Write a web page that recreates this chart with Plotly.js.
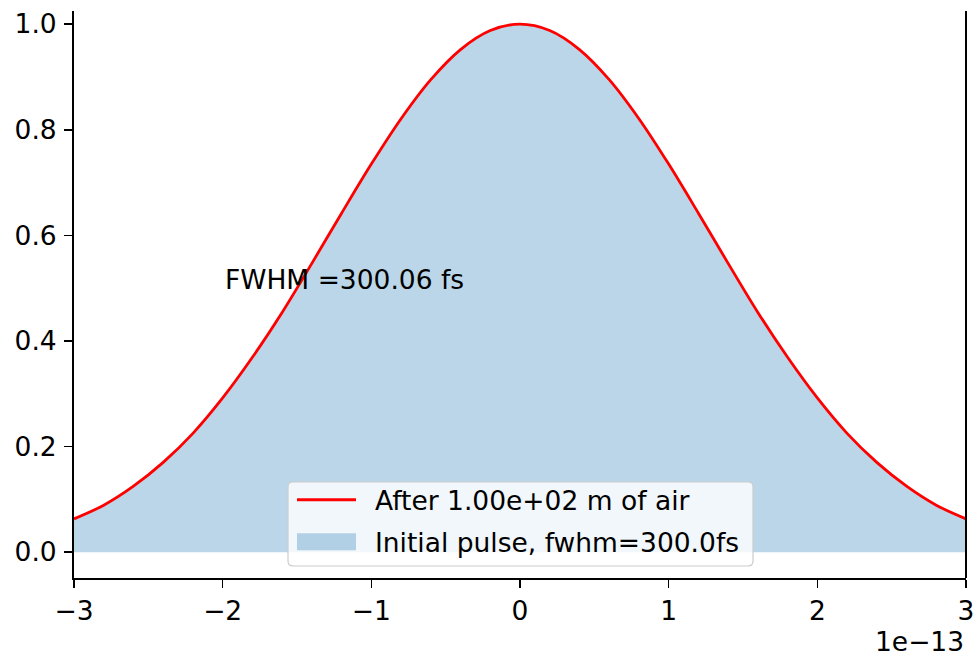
<!DOCTYPE html>
<html>
<head>
<meta charset="utf-8">
<script src="https://cdn.plot.ly/plotly-3.0.1.min.js"></script>
<style>
  html, body { margin: 0; padding: 0; background: #ffffff; }
  #chart { width: 977px; height: 656px; }
</style>
</head>
<body>
<div id="chart"></div>
<script>
// Time samples (seconds) across the pulse window
const timeS = [
  -3.0e-13, -2.8e-13, -2.6e-13, -2.4e-13, -2.2e-13, -2.0e-13, -1.8e-13, -1.6e-13,
  -1.4e-13, -1.2e-13, -1.0e-13, -0.8e-13, -0.6e-13, -0.4e-13, -0.2e-13, 0.0,
   0.2e-13,  0.4e-13,  0.6e-13,  0.8e-13,  1.0e-13,  1.2e-13,  1.4e-13,  1.6e-13,
   1.8e-13,  2.0e-13,  2.2e-13,  2.4e-13,  2.6e-13,  2.8e-13,  3.0e-13
];

// Normalised intensity of the initial pulse (fwhm = 300 fs)
const initialPulse = [
  0.063, 0.089, 0.125, 0.170, 0.225, 0.292, 0.369, 0.454,
  0.547, 0.642, 0.735, 0.821, 0.895, 0.952, 0.988, 1.000,
  0.988, 0.952, 0.895, 0.821, 0.735, 0.642, 0.547, 0.454,
  0.369, 0.292, 0.225, 0.170, 0.125, 0.089, 0.063
];

// Normalised intensity after propagation through 100 m of air
const afterAir = [
  0.063, 0.089, 0.125, 0.170, 0.225, 0.292, 0.369, 0.454,
  0.547, 0.642, 0.735, 0.821, 0.895, 0.952, 0.988, 1.000,
  0.988, 0.952, 0.895, 0.821, 0.735, 0.642, 0.547, 0.454,
  0.369, 0.292, 0.225, 0.170, 0.125, 0.089, 0.063
];

const xTickVals = [-3e-13, -2e-13, -1e-13, 0, 1e-13, 2e-13, 3e-13];
const xTickText = ['\u22123', '\u22122', '\u22121', '0', '1', '2', '3'];
const yTickVals = [0.0, 0.2, 0.4, 0.6, 0.8, 1.0];
const yTickText = ['0.0', '0.2', '0.4', '0.6', '0.8', '1.0'];

const labelInitial = 'Initial pulse, fwhm=300.0fs';
const labelAfter = 'After 1.00e+02 m of air';
const fwhmText = 'FWHM =300.06 fs';
const offsetText = '1e\u221213';

const FONT = 'DejaVu Sans, sans-serif';
const FS = 26.5;

// Legend frame (paper coordinates) with rounded corners
function roundedRect(x0, y0, x1, y1, rx, ry) {
  return 'M' + (x0 + rx) + ',' + y0 +
    ' L' + (x1 - rx) + ',' + y0 + ' Q' + x1 + ',' + y0 + ' ' + x1 + ',' + (y0 + ry) +
    ' L' + x1 + ',' + (y1 - ry) + ' Q' + x1 + ',' + y1 + ' ' + (x1 - rx) + ',' + y1 +
    ' L' + (x0 + rx) + ',' + y1 + ' Q' + x0 + ',' + y1 + ' ' + x0 + ',' + (y1 - ry) +
    ' L' + x0 + ',' + (y0 + ry) + ' Q' + x0 + ',' + y0 + ' ' + (x0 + rx) + ',' + y0 + ' Z';
}

const traces = [
  {
    x: timeS, y: initialPulse,
    type: 'scatter', mode: 'lines',
    line: { width: 0, shape: 'spline', color: 'rgba(31,119,180,0)' },
    fill: 'tozeroy', fillcolor: 'rgba(31,119,180,0.3)',
    name: labelInitial, legendrank: 2, legendgroup: 'initial', hoverinfo: 'skip'
  },
  {
    x: timeS, y: afterAir,
    type: 'scatter', mode: 'lines',
    line: { width: 2.8, shape: 'spline', color: '#ff0000' },
    name: labelAfter, legendrank: 1, legendgroup: 'after', hoverinfo: 'skip'
  }
];

const layout = {
  width: 977, height: 656,
  margin: { l: 74, r: 11, t: 11, b: 78, pad: 0 },
  paper_bgcolor: '#ffffff', plot_bgcolor: '#ffffff',
  font: { family: FONT, size: FS, color: '#000000' },
  showlegend: true,
  xaxis: {
    range: [-3e-13, 3e-13],
    tickmode: 'array', tickvals: xTickVals, ticktext: xTickText,
    ticks: 'outside', ticklen: 8, tickwidth: 1.6, tickcolor: '#000',
    showline: true, linecolor: '#000', linewidth: 2,
    showgrid: false, zeroline: false, mirror: false,
    tickfont: { family: FONT, size: FS, color: '#000' }
  },
  yaxis: {
    range: [-0.049, 1.025],
    tickmode: 'array', tickvals: yTickVals, ticktext: yTickText,
    ticks: 'outside', ticklen: 8, tickwidth: 1.6, tickcolor: '#000',
    ticklabelstandoff: 2,
    showline: true, linecolor: '#000', linewidth: 2,
    showgrid: false, zeroline: false, mirror: false,
    tickfont: { family: FONT, size: FS, color: '#000' }
  },
  legend: {
    x: (292 - 74) / 892, xanchor: 'left',
    y: (578 - 476) / 567, yanchor: 'top',
    bgcolor: 'rgba(0,0,0,0)', borderwidth: 0,
    font: { family: FONT, size: FS, color: '#000' },
    itemwidth: 73, tracegroupgap: 4, traceorder: 'grouped'
  },
  shapes: [
    { type: 'line', xref: 'paper', yref: 'paper', x0: 1, x1: 1, y0: 0, y1: 1,
      line: { color: '#000', width: 2 } },
    { type: 'path', xref: 'paper', yref: 'paper', layer: 'above',
      path: roundedRect((288 - 74) / 892, (578 - 566) / 567, (753 - 74) / 892, (578 - 482) / 567,
                        5 / 892, 5 / 567),
      fillcolor: 'rgba(255,255,255,0.8)', line: { color: '#cccccc', width: 1.2 } }
  ],
  annotations: [
    { x: -2e-13, y: 0.5, xref: 'x', yref: 'y', text: fwhmText,
      showarrow: false, xanchor: 'left', yanchor: 'bottom', yshift: -9,
      font: { family: FONT, size: FS, color: '#000' } },
    { x: 1, y: 0, xref: 'paper', yref: 'paper', text: offsetText,
      showarrow: false, xanchor: 'right', yanchor: 'top', yshift: -46,
      font: { family: FONT, size: FS, color: '#000' } }
  ]
};

const gd = document.getElementById('chart');
Plotly.newPlot(gd, traces, layout, { displayModeBar: false, staticPlot: true }).then(function () {
  // Legend handles: a long line for the curve and a solid patch for the filled area
  gd.querySelectorAll('.legend .traces').forEach(function (g) {
    const fill = g.querySelector('.legendfill path');
    if (fill) fill.setAttribute('d', 'M5,-8h59v17h-59z');
    const line = g.querySelector('.legendlines path');
    if (line) line.setAttribute('d', 'M5,0h59');
  });
});
</script>
</body>
</html>
